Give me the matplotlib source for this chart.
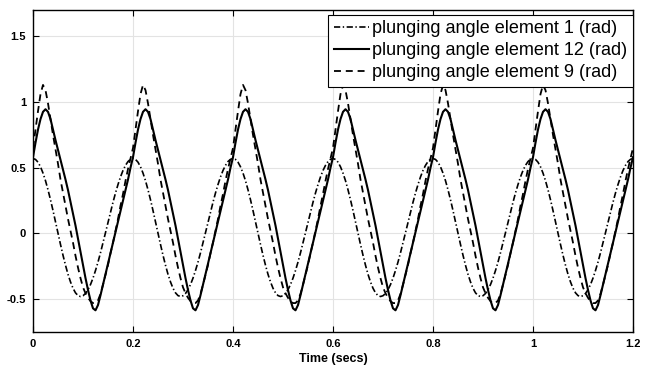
import numpy as np
import matplotlib
matplotlib.use("Agg")
import matplotlib.pyplot as plt
from matplotlib.ticker import FormatStrFormatter

plt.rcParams['font.family'] = ['Liberation Sans', 'DejaVu Sans']
plt.rcParams['lines.scale_dashes'] = False

period = 0.2
n_cycles = 6
dt = 0.005
elem1_cycle = [0.57, 0.563, 0.542, 0.507, 0.459, 0.401, 0.332, 0.256, 0.174, 0.088,
               0.002, -0.084, -0.166, -0.242, -0.311, -0.369, -0.417, -0.452, -0.473, -0.48,
               -0.474, -0.457, -0.428, -0.389, -0.34, -0.282, -0.218, -0.147, -0.072, 0.006,
               0.084, 0.162, 0.237, 0.308, 0.372, 0.43, 0.479, 0.518, 0.547, 0.564]
elem12_cycle = [0.58, 0.69, 0.79, 0.87, 0.925, 0.945, 0.925, 0.87, 0.79, 0.71,
                0.635, 0.56, 0.485, 0.41, 0.33, 0.24, 0.15, 0.06, -0.04, -0.14,
                -0.24, -0.34, -0.43, -0.51, -0.57, -0.585, -0.545, -0.47, -0.39, -0.31,
                -0.23, -0.15, -0.07, 0.01, 0.09, 0.17, 0.25, 0.33, 0.41, 0.50]
elem9_cycle = [0.65, 0.79, 0.93, 1.06, 1.13, 1.09, 0.99, 0.87, 0.75, 0.64,
               0.53, 0.41, 0.31, 0.21, 0.11, 0.02, -0.07, -0.17, -0.26, -0.34,
               -0.41, -0.455, -0.49, -0.515, -0.53, -0.53, -0.51, -0.46, -0.39, -0.315,
               -0.24, -0.15, -0.07, 0.02, 0.11, 0.21, 0.30, 0.40, 0.49, 0.57]
labels = ['plunging angle element 1 (rad)',
          'plunging angle element 12 (rad)',
          'plunging angle element 9 (rad)']
xticks = [0, 0.2, 0.4, 0.6, 0.8, 1.0, 1.2]
yticks = [-0.5, 0, 0.5, 1, 1.5]

def full(cycle):
    v = np.tile(cycle, n_cycles)
    return np.append(v, cycle[0])

t = np.arange(len(elem1_cycle) * n_cycles + 1) * dt

fig = plt.figure(figsize=(6.49, 3.70), dpi=100)
ax = fig.add_axes([33/649, 38/370, 600/649, 322/370])

ax.plot(t, full(elem1_cycle), color='k', lw=1.2, linestyle=(0, (4.5, 1.8, 1, 1.8)), label=labels[0])
ax.plot(t, full(elem12_cycle), color='k', lw=1.5, linestyle='-', label=labels[1])
ax.plot(t, full(elem9_cycle), color='k', lw=1.3, linestyle=(0, (5, 3.5)), label=labels[2])

ax.set_xlim(0, 1.2)
ax.set_ylim(-0.75, 1.7)
ax.set_xticks(xticks)
ax.set_yticks(yticks)
ax.xaxis.set_major_formatter(FormatStrFormatter('%g'))
ax.yaxis.set_major_formatter(FormatStrFormatter('%g'))
ax.grid(True, color='#e3e3e3', lw=0.8)
ax.set_axisbelow(True)
ax.tick_params(direction='in', length=4, width=0.8, top=True, right=True,
               labelsize=8, pad=5)
for lab in ax.get_xticklabels() + ax.get_yticklabels():
    lab.set_fontweight('bold')
for s in ax.spines.values():
    s.set_linewidth(1.0)
ax.set_xlabel('Time (secs)', fontsize=9, fontweight='bold', labelpad=3)

leg = ax.legend(loc='upper right', bbox_to_anchor=(1.0, 1 - 5/322), fontsize=13,
                frameon=True, fancybox=False, framealpha=1, edgecolor='k',
                borderaxespad=0, borderpad=0.3, handlelength=1.95,
                handletextpad=0.2, labelspacing=0.27)
leg.get_frame().set_linewidth(0.8)

fig.savefig('out.png', dpi=100)
